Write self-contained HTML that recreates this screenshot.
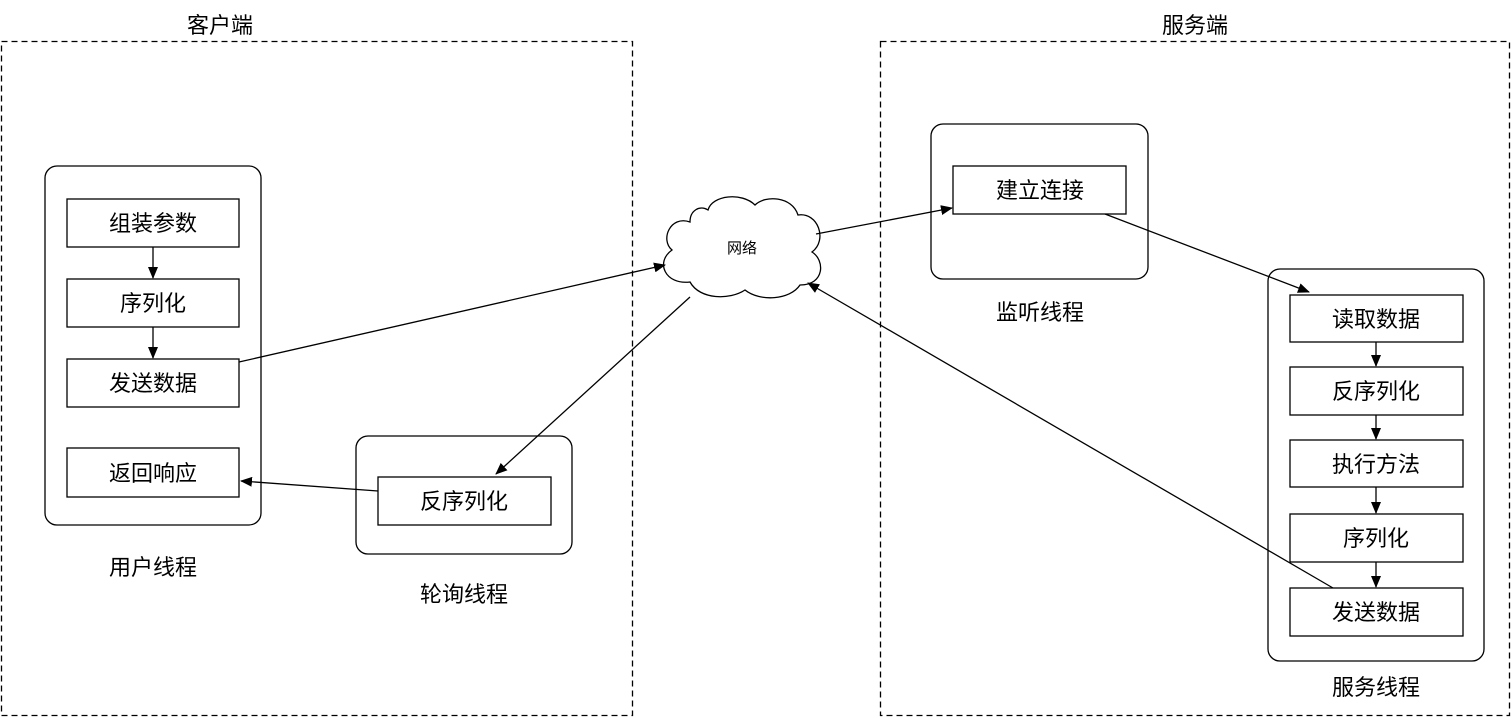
<!DOCTYPE html>
<html><head><meta charset="utf-8"><style>
html,body{margin:0;padding:0;background:#fff;}
svg{display:block;}
text{font-family:"Liberation Sans","Noto Sans CJK SC",sans-serif;fill:#000;}
</style></head><body>
<svg width="1512" height="718" viewBox="0 0 1512 718" xmlns="http://www.w3.org/2000/svg">
<defs>
<marker id="a" markerWidth="12" markerHeight="10" refX="11" refY="5" orient="auto" markerUnits="userSpaceOnUse">
<path d="M0,0 L12,5 L0,10 Z" fill="#000"/></marker>
</defs>
<g fill="none" stroke="#000" stroke-width="1.3">
<rect x="1.5" y="41.5" width="631" height="674" stroke-dasharray="6,4"/>
<rect x="880.5" y="41.5" width="629" height="674" stroke-dasharray="6,4"/>
<rect x="45" y="166" width="216" height="359" rx="12"/>
<rect x="356" y="436" width="216" height="118" rx="12"/>
<rect x="931" y="124" width="217" height="155" rx="12"/>
<rect x="1268" y="269" width="216" height="392" rx="12"/>
<rect x="67" y="199" width="172" height="48"/>
<rect x="67" y="279" width="172" height="48"/>
<rect x="67" y="359" width="172" height="48"/>
<rect x="67" y="448" width="172" height="49"/>
<rect x="378" y="477" width="173" height="48"/>
<rect x="953" y="166" width="173" height="48"/>
<rect x="1290" y="295" width="173" height="47"/>
<rect x="1290" y="367" width="173" height="48"/>
<rect x="1290" y="440" width="173" height="47"/>
<rect x="1290" y="514" width="173" height="48"/>
<rect x="1290" y="588" width="173" height="48"/>
<path d="M690,222 C670,215 660,240 672,250 C655,262 665,285 690,282 C700,300 730,300 745,290 C760,302 790,300 800,285 C825,285 825,260 812,252 C828,240 818,212 798,215 C792,196 765,195 755,205 C742,192 712,195 708,210 C700,205 690,210 690,222 Z" fill="#fff"/>
<g marker-end="url(#a)">
<line x1="153" y1="247" x2="153" y2="278"/>
<line x1="153" y1="327" x2="153" y2="358"/>
<line x1="1376" y1="342" x2="1376" y2="366"/>
<line x1="1376" y1="415" x2="1376" y2="439"/>
<line x1="1376" y1="487" x2="1376" y2="513"/>
<line x1="1376" y1="562" x2="1376" y2="587"/>
<line x1="239" y1="362" x2="665" y2="265"/>
<line x1="816" y1="234" x2="952" y2="208"/>
<line x1="1105" y1="214" x2="1309" y2="292"/>
<line x1="1333" y1="588" x2="808" y2="283"/>
<line x1="690" y1="297" x2="496" y2="474"/>
<line x1="378" y1="491" x2="241" y2="481"/>
</g>
</g>
<g font-size="22" text-anchor="middle">
<text x="220" y="33">客户端</text>
<text x="1195" y="33">服务端</text>
<text x="153" y="231">组装参数</text>
<text x="153" y="311">序列化</text>
<text x="153" y="391">发送数据</text>
<text x="153" y="481">返回响应</text>
<text x="153" y="575">用户线程</text>
<text x="464" y="509">反序列化</text>
<text x="464" y="602">轮询线程</text>
<text x="1040" y="198">建立连接</text>
<text x="1040" y="320">监听线程</text>
<text x="1376" y="327">读取数据</text>
<text x="1376" y="399">反序列化</text>
<text x="1376" y="472">执行方法</text>
<text x="1376" y="546">序列化</text>
<text x="1376" y="620">发送数据</text>
<text x="1376" y="695">服务线程</text>
<text x="742" y="253" font-size="15">网络</text>
</g>
</svg>
</body></html>
